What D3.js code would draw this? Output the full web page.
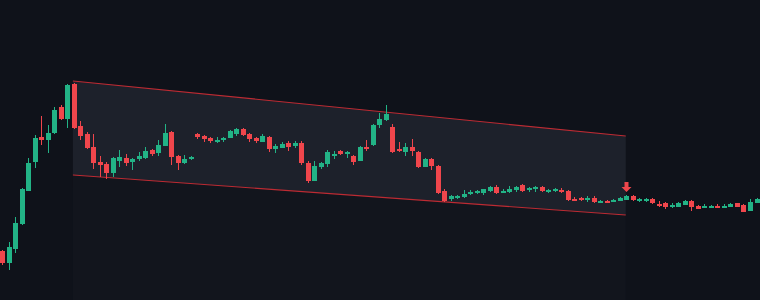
<!DOCTYPE html>
<html>
<head>
<meta charset="utf-8">
<script src="https://cdn.jsdelivr.net/npm/d3@7"></script>
<style>
  html, body { margin: 0; padding: 0; background: #0f121a; }
  svg { display: block; }
</style>
</head>
<body>
<svg id="chart" width="760" height="300"></svg>
<script>
// ohlc prices, one entry per bar
const opens = [0.49,0.37,0.51,0.76,1.09,1.38,1.63,1.60,1.67,1.93,1.81,2.16,1.74,1.66,1.53,1.38,1.36,1.27,1.39,1.42,
  1.38,1.41,1.42,1.50,1.47,1.54,1.68,1.44,1.37,1.415,1.66,1.64,1.62,1.58,1.60,1.62,1.66,1.71,1.66,1.62,
  1.58,1.63,1.51,1.52,1.57,1.54,1.57,1.37,1.19,1.33,1.36,1.44,1.49,1.46,1.44,1.39,1.535,1.55,1.75,1.80,
  1.73,1.51,1.48,1.53,1.48,1.33,1.41,1.34,1.09,1.01,1.02,1.03,1.06,1.07,1.07,1.09,1.13,1.07,1.08,1.10,
  1.15,1.11,1.11,1.13,1.09,1.095,1.10,1.09,1.015,1.02,1.00,1.02,0.97,0.99,0.98,0.99,1.00,1.04,1.005,1.005,
  1.01,0.965,0.97,0.93,0.93,0.95,0.99,0.94,0.925,0.925,0.935,0.925,0.93,0.97,0.95,0.89,0.97];
const highs = [0.50,0.58,0.83,1.12,1.42,1.65,1.84,1.75,1.93,1.95,2.16,2.17,1.79,1.68,1.66,1.44,1.38,1.43,1.50,1.46,
  1.42,1.48,1.53,1.51,1.60,1.76,1.69,1.45,1.45,1.44,1.67,1.65,1.63,1.63,1.63,1.70,1.72,1.72,1.67,1.63,
  1.66,1.64,1.56,1.58,1.59,1.59,1.59,1.39,1.39,1.38,1.50,1.49,1.50,1.49,1.45,1.54,1.60,1.76,1.87,1.95,
  1.76,1.58,1.57,1.61,1.49,1.42,1.42,1.35,1.11,1.05,1.05,1.10,1.10,1.10,1.11,1.14,1.15,1.11,1.14,1.14,
  1.16,1.13,1.14,1.14,1.11,1.12,1.12,1.10,1.03,1.03,1.04,1.04,1.00,1.00,1.01,1.03,1.05,1.05,1.02,1.02,
  1.02,0.99,0.98,0.97,0.98,1.00,1.00,0.95,0.96,0.95,0.96,0.96,0.97,0.97,0.96,1.01,1.02];
const lows = [0.35,0.30,0.47,0.75,1.09,1.32,1.55,1.47,1.66,1.80,1.72,1.71,1.60,1.51,1.31,1.23,1.21,1.23,1.33,1.34,
  1.30,1.39,1.41,1.44,1.44,1.54,1.35,1.30,1.36,1.40,1.61,1.58,1.57,1.57,1.58,1.62,1.64,1.64,1.58,1.57,
  1.58,1.48,1.47,1.52,1.49,1.52,1.35,1.17,1.19,1.31,1.33,1.41,1.45,1.42,1.35,1.39,1.49,1.54,1.72,1.79,
  1.47,1.48,1.44,1.44,1.32,1.33,1.30,1.06,0.98,0.99,1.01,1.02,1.05,1.06,1.05,1.08,1.06,1.07,1.07,1.08,
  1.08,1.08,1.08,1.08,1.07,1.08,1.07,0.99,0.99,0.99,0.98,0.97,0.97,0.97,0.98,0.99,1.00,0.99,0.98,0.98,
  0.96,0.93,0.91,0.92,0.93,0.95,0.89,0.91,0.92,0.92,0.92,0.92,0.93,0.93,0.88,0.89,0.97];
const closes = [0.37,0.53,0.77,1.11,1.37,1.62,1.60,1.67,1.90,1.81,2.15,1.72,1.64,1.52,1.37,1.35,1.27,1.42,1.43,1.37,
  1.41,1.44,1.49,1.46,1.55,1.67,1.43,1.37,1.41,1.425,1.63,1.61,1.59,1.60,1.62,1.69,1.71,1.65,1.61,1.59,
  1.64,1.51,1.54,1.56,1.53,1.57,1.37,1.19,1.34,1.37,1.48,1.46,1.46,1.48,1.38,1.53,1.525,1.75,1.81,1.86,
  1.48,1.49,1.53,1.49,1.33,1.41,1.34,1.07,0.99,1.04,1.04,1.06,1.08,1.09,1.105,1.13,1.07,1.09,1.11,1.13,
  1.09,1.12,1.13,1.09,1.10,1.105,1.08,1.00,1.005,1.00,1.02,0.98,0.99,0.98,1.00,1.02,1.04,1.00,1.015,1.015,
  0.97,0.955,0.93,0.95,0.97,0.99,0.93,0.91,0.935,0.935,0.925,0.935,0.96,0.93,0.88,0.98,1.01];

// channel drawn between two bar positions: [top start, top end], [bottom start, bottom end]
const channelBars = [10.9, 95.9];
const channelTop = [2.19, 1.64];
const channelBottom = [1.25, 0.85];
// sell marker above this bar
const signalBar = 96;

const svg = d3.select("#chart");
const width = +svg.attr("width");
const height = +svg.attr("height");

const upColor = "#22b386";
const downColor = "#f0464c";

const data = opens.map((o, i) => ({ i, o, h: highs[i], l: lows[i], c: closes[i] }));

const x = d3.scaleLinear()
  .domain([0, data.length - 1])
  .range([2, 756.5]);

const y = d3.scaleLinear()
  .domain([0, 3])
  .range([height, 0]);

const bodyW = 5;

svg.append("rect")
  .attr("width", width)
  .attr("height", height)
  .attr("fill", "#0f121a");

// faint column under the channel
const x0 = x(channelBars[0]), x1 = x(channelBars[1]);
svg.append("path")
  .attr("d", `M${x0},${y(channelBottom[0])}L${x1},${y(channelBottom[1])}L${x1},${height}L${x0},${height}Z`)
  .attr("fill", "#12151d");

// channel fill
const poly = [
  [x0, y(channelTop[0])], [x1, y(channelTop[1])],
  [x1, y(channelBottom[1])], [x0, y(channelBottom[0])]
];
svg.append("path")
  .attr("d", d3.line()(poly) + "Z")
  .attr("fill", "#1d212b");

svg.append("line")
  .attr("x1", x0).attr("y1", y(channelTop[0]))
  .attr("x2", x1).attr("y2", y(channelTop[1]))
  .attr("stroke", "#bd2b33").attr("stroke-width", 1.2);
svg.append("line")
  .attr("x1", x0).attr("y1", y(channelBottom[0]))
  .attr("x2", x1).attr("y2", y(channelBottom[1]))
  .attr("stroke", "#bd2b33").attr("stroke-width", 1.2);

// candles
const g = svg.append("g").attr("shape-rendering", "crispEdges");
const candles = g.selectAll(".candle")
  .data(data)
  .enter()
  .append("g")
  .attr("class", "candle")
  .attr("fill", d => d.c >= d.o ? upColor : downColor);

candles.append("rect")
  .attr("x", d => Math.round(x(d.i)))
  .attr("width", 1)
  .attr("y", d => Math.round(y(d.h)))
  .attr("height", d => Math.max(1, Math.round(y(d.l)) - Math.round(y(d.h))));

candles.append("rect")
  .attr("x", d => Math.round(x(d.i) - bodyW / 2 + 0.5))
  .attr("width", bodyW)
  .attr("y", d => Math.round(y(Math.max(d.o, d.c))))
  .attr("height", d => Math.max(1.5, Math.round(y(Math.min(d.o, d.c))) - Math.round(y(Math.max(d.o, d.c)))));

// down arrow over the signal bar
const ax = Math.round(x(signalBar)) + 0.5;
const ay = Math.round(y(highs[signalBar])) - 3;
svg.append("path")
  .attr("d", `M${ax - 2},${ay - 10}L${ax + 2},${ay - 10}L${ax + 2},${ay - 5}L${ax + 5},${ay - 5}L${ax},${ay}L${ax - 5},${ay - 5}L${ax - 2},${ay - 5}Z`)
  .attr("fill", downColor);
</script>
</body>
</html>
